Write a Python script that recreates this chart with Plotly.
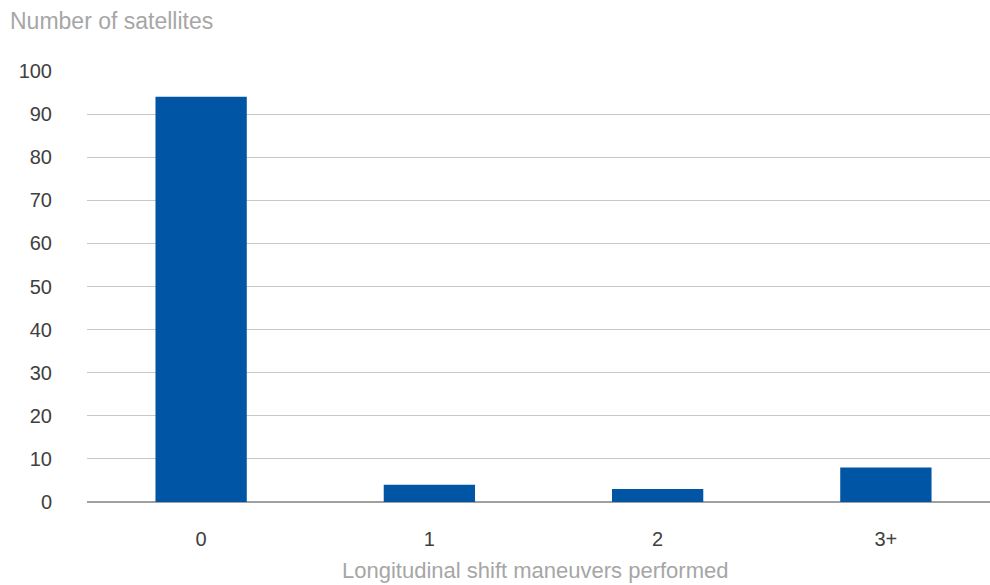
import plotly.graph_objects as go

categories = ["0", "1", "2", "3+"]
satellites = [94, 4, 3, 8]
y_ticks = list(range(0, 101, 10))

bar_color = "#0055A4"
tick_color = "#404040"
title_color = "#A6A6A6"
font_family = "Liberation Sans, Arial, sans-serif"

fig = go.Figure(
    go.Bar(
        x=list(range(len(categories))),
        y=satellites,
        marker=dict(color=bar_color, line=dict(width=0)),
        width=0.40,
        hoverinfo="x+y",
    )
)

left, top, bottom = 87, 71, 83
plot_w = 990 - left
plot_h = 585 - top - bottom

fig.update_layout(
    width=990,
    height=585,
    margin=dict(l=left, r=0, t=top, b=bottom),
    plot_bgcolor="white",
    paper_bgcolor="white",
    showlegend=False,
    font=dict(family=font_family, color=tick_color, size=20),
    xaxis=dict(
        tickmode="array",
        tickvals=list(range(len(categories))),
        ticktext=categories,
        range=[-0.5, 3.5 - 10 / 228],
        showgrid=False,
        zeroline=False,
        showline=False,
        ticks="",
        ticklabelstandoff=23,
        tickfont=dict(size=20, color=tick_color),
        fixedrange=True,
    ),
    yaxis=dict(
        range=[0, 100],
        tickvals=y_ticks,
        showgrid=True,
        gridcolor="#C8C8C8",
        gridwidth=1.3,
        zeroline=True,
        zerolinecolor="#A0A0A0",
        zerolinewidth=2,
        showline=False,
        ticks="",
        ticklabelstandoff=34,
        tickfont=dict(size=20, color=tick_color),
        fixedrange=True,
    ),
    annotations=[
        dict(
            text="Number of satellites",
            xref="paper", yref="paper",
            x=-(left - 8) / plot_w, y=1 + (top - 21) / plot_h,
            xanchor="left", yanchor="middle",
            showarrow=False,
            font=dict(size=23, color=title_color, family=font_family),
        ),
        dict(
            text="Longitudinal shift maneuvers performed",
            xref="paper", yref="paper",
            x=(535 - left) / plot_w, y=-(570 - (585 - bottom)) / plot_h,
            xanchor="center", yanchor="middle",
            showarrow=False,
            font=dict(size=22, color=title_color, family=font_family),
        ),
    ],
)

fig.write_html("out.html")
